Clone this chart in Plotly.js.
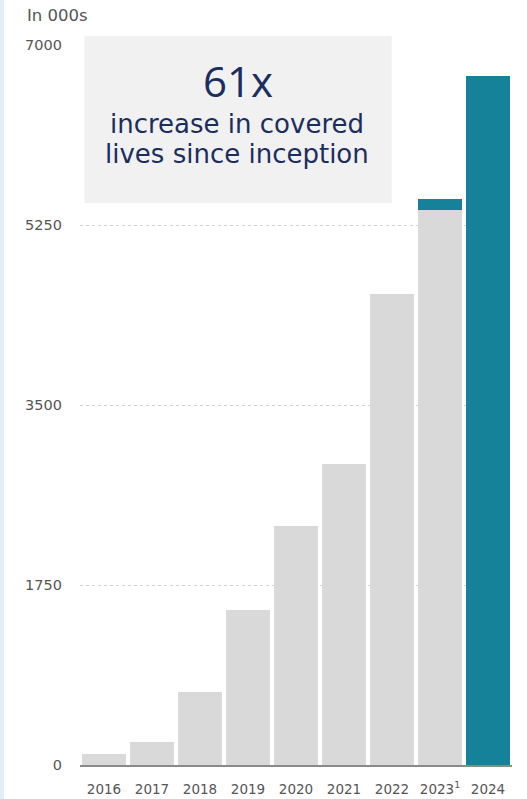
<!DOCTYPE html>
<html>
<head>
<meta charset="utf-8">
<script src="https://cdn.plot.ly/plotly-3.0.1.min.js"></script>
<style>
  html, body { margin: 0; padding: 0; background: #ffffff; }
  #wrap { position: relative; width: 527px; height: 799px; }
  #edge { position: absolute; left: 0; top: 0; width: 4px; height: 799px; background: #e0f0f6; z-index: 2; }
  #chart { position: absolute; left: 0; top: 0; width: 527px; height: 799px; }
</style>
</head>
<body>
<div id="wrap">
  <div id="edge"></div>
  <div id="chart"></div>
</div>
<script>
// Covered lives by year, in thousands
const years = ['2016', '2017', '2018', '2019', '2020', '2021', '2022', '2023<sup>1</sup>', '2024'];
const baseLives = [110, 228, 714, 1511, 2327, 2929, 4581, 5400, null];
const highlightLives = [null, null, null, null, null, null, null, 100, 6700];
const yTicks = [0, 1750, 3500, 5250, 7000];
const unitLabel = 'In 000s';
const calloutHead = '61x';
const calloutLines = ['increase in covered', 'lives since inception'];

const grey = '#d9d9d9';
const teal = '#16829a';
const navy = '#1b2e5e';
const labelFont = '"DejaVu Sans", sans-serif';
const headFont = '"Open Sans", sans-serif';

const traces = [
  {
    type: 'bar', x: years, y: baseLives,
    marker: { color: grey, line: { width: 0 } },
    hoverinfo: 'skip'
  },
  {
    type: 'bar', x: years, y: highlightLives,
    marker: { color: teal, line: { width: 0 } },
    hoverinfo: 'skip'
  }
];

// pixel -> paper helpers for the callout box
const W = 527, H = 799;
const mL = 79.5, mR = 14.5, mT = 45, mB = 33.5;
const pw = W - mL - mR, ph = H - mT - mB;
const px = v => (v - mL) / pw;
const py = v => (H - mB - v) / ph;

const bodyAnnotations = calloutLines.map((line, i) => ({
  xref: 'paper', yref: 'paper', x: px(237), y: py(124 + i * 30),
  xanchor: 'center', yanchor: 'middle', showarrow: false,
  text: line, font: { size: 26, color: navy, family: labelFont }
}));

const layout = {
  width: W, height: H,
  margin: { l: mL, r: mR, t: mT, b: mB, pad: 0 },
  paper_bgcolor: '#ffffff',
  plot_bgcolor: '#ffffff',
  barmode: 'stack',
  bargap: 0.09,
  showlegend: false,
  font: { family: labelFont, color: '#555555', size: 13 },
  xaxis: {
    type: 'category',
    showline: true, linecolor: '#8a8a8a', linewidth: 1.5,
    showgrid: false, zeroline: false,
    ticks: '', ticklabelstandoff: 11,
    tickfont: { size: 13.5, color: '#555555', family: labelFont },
    fixedrange: true
  },
  yaxis: {
    range: [0, 7000],
    tickvals: yTicks,
    ticktext: yTicks.map(String),
    showgrid: true, gridcolor: '#d2d2d2', gridwidth: 1, griddash: 'dot',
    zeroline: false, showline: false, ticks: '',
    ticklabelstandoff: 17,
    tickfont: { size: 14.5, color: '#555555', family: labelFont },
    fixedrange: true
  },
  shapes: [
    {
      type: 'rect', xref: 'paper', yref: 'paper', layer: 'above',
      x0: px(84), x1: px(392), y0: py(203), y1: py(36),
      fillcolor: '#f1f1f1', line: { width: 0 }
    }
  ],
  annotations: [
    {
      xref: 'paper', yref: 'paper', x: px(24), y: py(15),
      xanchor: 'left', yanchor: 'middle', showarrow: false,
      text: unitLabel, font: { size: 16.5, color: '#555555', family: labelFont }
    },
    {
      xref: 'paper', yref: 'paper', x: px(238), y: py(81),
      xanchor: 'center', yanchor: 'middle', showarrow: false,
      text: calloutHead, font: { size: 42, color: navy, family: headFont }
    }
  ].concat(bodyAnnotations)
};

Plotly.newPlot('chart', traces, layout, { staticPlot: true, displayModeBar: false });
</script>
</body>
</html>
